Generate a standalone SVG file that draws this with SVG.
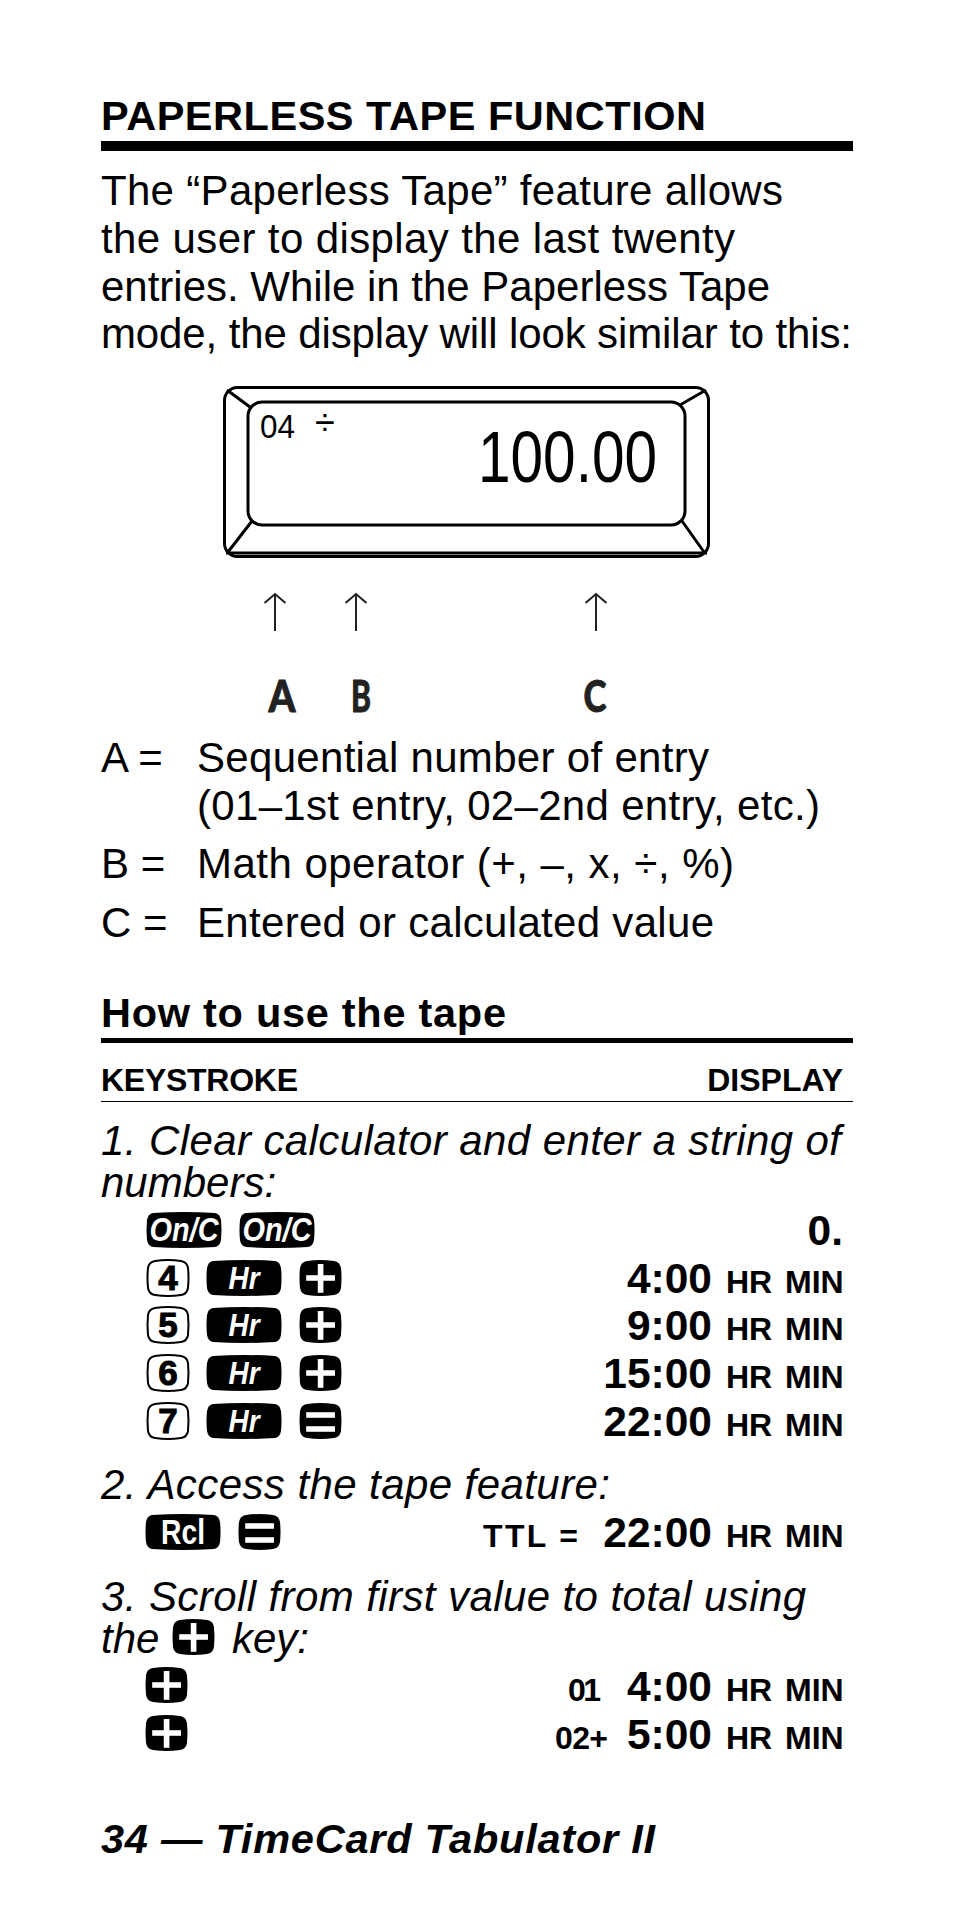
<svg xmlns="http://www.w3.org/2000/svg" width="954" height="1908" viewBox="0 0 954 1908">
<style>
text{font-family:"Liberation Sans",Arial,sans-serif;fill:#000}
.b{font-size:42px}
.i{font-size:42px;font-style:italic}
.h{font-size:41.500px;font-weight:bold}
.k{font-size:32px;font-weight:bold}
.d{font-size:42.500px;font-weight:bold;text-anchor:end}
.u{font-size:32px;font-weight:bold}
.ln{fill:none;stroke:#000;stroke-width:3}
.ar{fill:none;stroke:#222;stroke-width:2}
.abc{font-family:"Lato","Liberation Sans",sans-serif;font-size:43px;font-weight:900;text-anchor:middle;fill:#222;stroke:#222;stroke-width:.8}
.hr,.onc{fill:#fff;text-anchor:middle;font-weight:bold;font-style:italic}
.hr{font-size:31px}
.onc{font-size:33px}
.rcl{fill:#fff;text-anchor:middle;font-weight:bold;font-size:35px}
.ks{fill:#fff;text-anchor:middle;stroke:#fff;stroke-width:1.500;font-size:56px}
.kn{fill:#000;text-anchor:middle;font-weight:bold;font-size:35px;stroke:#000;stroke-width:1}
</style>
<defs>
<path id="wide" d="M6 1Q37 -1 68 1Q73 2 74 8Q75 18 74 28Q73 34 68 35Q37 37 6 35Q1 34 0 28Q-1 18 0 8Q1 2 6 1Z"/>
<path id="sq" d="M7 1Q20 -1 34 1Q40 2 41 8Q42 18 41 28Q40 34 34 35Q20 37 7 35Q1 34 0 28Q-1 18 0 8Q1 2 7 1Z"/>
<path id="num" d="M7 1Q20 -1 33 1Q39 2 40 8Q41 18 40 28Q39 34 33 35Q20 37 7 35Q1 34 0 28Q-1 18 0 8Q1 2 7 1Z" fill="#fff" stroke="#000" stroke-width="2"/>
</defs>
<rect width="954" height="1908" fill="#fff"/>

<g id="header">
<text class="h" x="101" y="130" textLength="605">PAPERLESS TAPE FUNCTION</text>
<rect x="101" y="141" width="752" height="10"/>
</g>
<g id="intro">
<text class="b" x="101" y="205" textLength="682">The “Paperless Tape” feature allows</text>
<text class="b" x="101" y="253" textLength="634">the user to display the last twenty</text>
<text class="b" x="101" y="301" textLength="669">entries. While in the Paperless Tape</text>
<text class="b" x="101" y="348" textLength="751">mode, the display will look similar to this:</text>
</g>
<g id="display">
<rect class="ln" x="224.500" y="387.500" width="484" height="169" rx="13"/>
<line class="ln" x1="226" y1="553" x2="707" y2="553"/>
<rect class="ln" x="248" y="402" width="437" height="123" rx="14"/>
<path class="ln" d="M227 390L250 407M706 390L680 405M228 552L252 521M704 552L682 521"/>
<text x="260" y="438" font-size="33" textLength="35" lengthAdjust="spacingAndGlyphs">04</text>
<text x="325" y="435" font-size="36" text-anchor="middle">÷</text>
<text x="478" y="482" font-size="73" textLength="179" lengthAdjust="spacingAndGlyphs">100.00</text>
</g>
<g id="connectors">
<path class="ar" d="M275 631V594M264.500 603L275 594L285.500 603"/>
<path class="ar" d="M356 631V594M345.500 603L356 594L366.500 603"/>
<path class="ar" d="M596 631V594M585.500 603L596 594L606.500 603"/>
</g>
<g id="labels">
<text class="abc" x="282" y="712" textLength="27" lengthAdjust="spacingAndGlyphs">A</text>
<text class="abc" x="361" y="712" textLength="20" lengthAdjust="spacingAndGlyphs">B</text>
<text class="abc" x="595" y="712" textLength="23" lengthAdjust="spacingAndGlyphs">C</text>
</g>
<g id="legend">
<text class="b" x="101" y="772">A =</text>
<text class="b" x="197" y="772" textLength="512">Sequential number of entry</text>
<text class="b" x="197" y="820" textLength="623">(01–1st entry, 02–2nd entry, etc.)</text>
<text class="b" x="101" y="878">B =</text>
<text class="b" x="197" y="878" textLength="537">Math operator (+, –, x, ÷, %)</text>
<text class="b" x="101" y="937">C =</text>
<text class="b" x="197" y="937" textLength="517">Entered or calculated value</text>
</g>
<g id="tape-head">
<text class="h" x="101" y="1027" textLength="405">How to use the tape</text>
<rect x="101" y="1038" width="752" height="5"/>
<text class="k" x="101" y="1091" textLength="197">KEYSTROKE</text>
<text class="k" x="843" y="1091" text-anchor="end">DISPLAY</text>
<rect x="101" y="1101" width="752" height="1"/>
</g>
<g id="step1">
<text class="i" x="101" y="1155" textLength="740">1. Clear calculator and enter a string of</text>
<text class="i" x="101" y="1197">numbers:</text>
<g id="key-onc-1" transform="translate(147 1212)"><use href="#wide"/><text class="onc" x="37" y="29" textLength="69" lengthAdjust="spacingAndGlyphs">On/C</text></g>
<g id="key-onc-2" transform="translate(240 1212)"><use href="#wide"/><text class="onc" x="37" y="29" textLength="69" lengthAdjust="spacingAndGlyphs">On/C</text></g>
<text class="d" x="843" y="1245">0.</text>

<g id="key-4" transform="translate(148 1260)"><use href="#num"/><text class="kn" x="20" y="30">4</text></g>
<g id="key-hr-1" transform="translate(207 1260)"><use href="#wide"/><text class="hr" x="37" y="29" textLength="31" lengthAdjust="spacingAndGlyphs">Hr</text></g>
<g id="key-plus-1" transform="translate(300 1260)"><use href="#sq"/><text class="ks" x="20.500" y="37">+</text></g>
<text class="d" x="712" y="1293">4:00</text><text class="u" x="726" y="1293">HR</text><text class="u" x="785" y="1293">MIN</text>

<g id="key-5" transform="translate(148 1307)"><use href="#num"/><text class="kn" x="20" y="30">5</text></g>
<g id="key-hr-2" transform="translate(207 1307)"><use href="#wide"/><text class="hr" x="37" y="29" textLength="31" lengthAdjust="spacingAndGlyphs">Hr</text></g>
<g id="key-plus-2" transform="translate(300 1307)"><use href="#sq"/><text class="ks" x="20.500" y="37">+</text></g>
<text class="d" x="712" y="1340">9:00</text><text class="u" x="726" y="1340">HR</text><text class="u" x="785" y="1340">MIN</text>

<g id="key-6" transform="translate(148 1355)"><use href="#num"/><text class="kn" x="20" y="30">6</text></g>
<g id="key-hr-3" transform="translate(207 1355)"><use href="#wide"/><text class="hr" x="37" y="29" textLength="31" lengthAdjust="spacingAndGlyphs">Hr</text></g>
<g id="key-plus-3" transform="translate(300 1355)"><use href="#sq"/><text class="ks" x="20.500" y="37">+</text></g>
<text class="d" x="712" y="1388">15:00</text><text class="u" x="726" y="1388">HR</text><text class="u" x="785" y="1388">MIN</text>

<g id="key-7" transform="translate(148 1403)"><use href="#num"/><text class="kn" x="20" y="30">7</text></g>
<g id="key-hr-4" transform="translate(207 1403)"><use href="#wide"/><text class="hr" x="37" y="29" textLength="31" lengthAdjust="spacingAndGlyphs">Hr</text></g>
<g id="key-eq-1" transform="translate(300 1403)"><use href="#sq"/><text class="ks" x="20.500" y="37">=</text></g>
<text class="d" x="712" y="1436">22:00</text><text class="u" x="726" y="1436">HR</text><text class="u" x="785" y="1436">MIN</text>
</g>
<g id="step2">
<text class="i" x="101" y="1499" textLength="509">2. Access the tape feature:</text>
<g id="key-rcl" transform="translate(146 1514)"><use href="#wide"/><text class="rcl" x="37" y="30" textLength="44" lengthAdjust="spacingAndGlyphs">Rcl</text></g>
<g id="key-eq-2" transform="translate(239 1514)"><use href="#sq"/><text class="ks" x="20.500" y="37">=</text></g>
<text class="u" x="483" y="1547" textLength="95">TTL =</text>
<text class="d" x="712" y="1547">22:00</text><text class="u" x="726" y="1547">HR</text><text class="u" x="785" y="1547">MIN</text>
</g>
<g id="step3">
<text class="i" x="101" y="1611" textLength="705">3. Scroll from first value to total using</text>
<text class="i" x="101" y="1653">the</text>
<g id="key-plus-4" transform="translate(173 1619)"><use href="#sq"/><text class="ks" x="20.500" y="37">+</text></g>
<text class="i" x="232" y="1653">key:</text>
<g id="key-plus-5" transform="translate(146 1667)"><use href="#sq"/><text class="ks" x="20.500" y="37">+</text></g>
<text class="u" x="568" y="1701" textLength="33">01</text>
<text class="d" x="712" y="1701">4:00</text><text class="u" x="726" y="1701">HR</text><text class="u" x="785" y="1701">MIN</text>
<g id="key-plus-6" transform="translate(146 1715)"><use href="#sq"/><text class="ks" x="20.500" y="37">+</text></g>
<text class="u" x="555" y="1749" textLength="53">02+</text>
<text class="d" x="712" y="1749">5:00</text><text class="u" x="726" y="1749">HR</text><text class="u" x="785" y="1749">MIN</text>
</g>
<g id="footer">
<text class="h" font-style="italic" x="101" y="1853" textLength="554">34 — TimeCard Tabulator II</text>
</g>
</svg>
